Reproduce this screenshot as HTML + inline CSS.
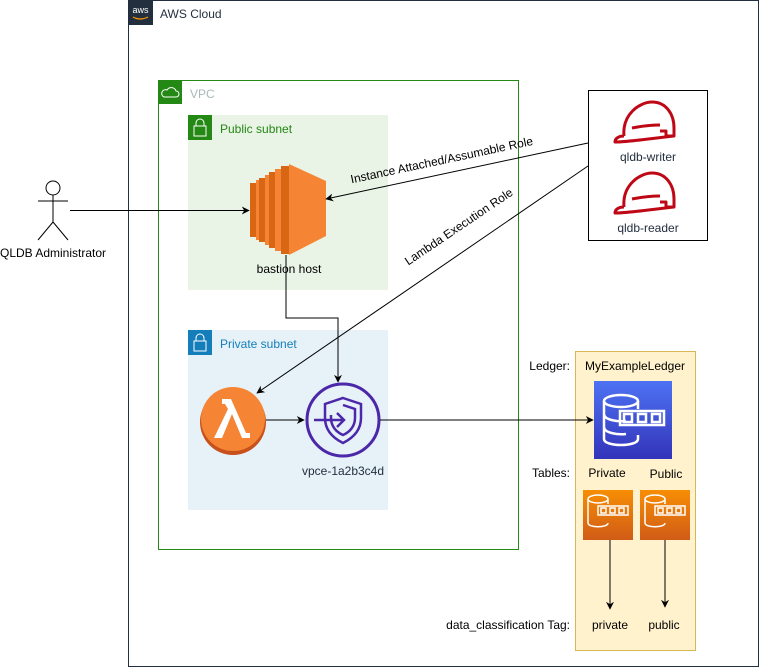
<!DOCTYPE html>
<html><head><meta charset="utf-8"><style>
html,body{margin:0;padding:0;background:#fff;}
svg{display:block;font-family:"Liberation Sans",Arial,sans-serif;}
</style></head><body>
<svg width="759" height="668" viewBox="0 0 759 668" xmlns="http://www.w3.org/2000/svg">
<defs>
<marker id="ar" viewBox="0 0 10 10" refX="9" refY="5" markerWidth="8" markerHeight="8" orient="auto" markerUnits="userSpaceOnUse"><path d="M0,0 L10,5 L0,10 L3,5 z" fill="#000"/></marker>
<linearGradient id="bl" x1="0" y1="0" x2="0" y2="1"><stop offset="0" stop-color="#4D72F3"/><stop offset="1" stop-color="#3334B9"/></linearGradient>
<linearGradient id="or" x1="0" y1="0" x2="0" y2="1"><stop offset="0" stop-color="#F78E04"/><stop offset="1" stop-color="#D05C17"/></linearGradient>
</defs>
<rect x="128.5" y="0.5" width="630" height="666" fill="#fff" stroke="#232F3E"/>
<rect x="128" y="0" width="25" height="25" fill="#232F3E"/>
<text x="140.5" y="13" font-size="9" fill="#fff" text-anchor="middle">aws</text>
<path d="M133,17 Q140,21 148,17" stroke="#F90" stroke-width="1.2" fill="none"/>
<text x="160" y="18" font-size="12" fill="#232F3E">AWS Cloud</text>
<rect x="158.5" y="80.5" width="360" height="469" fill="none" stroke="#248814"/>
<rect x="158" y="80" width="24" height="24" fill="#248814"/>
<path d="M164,97 h12 a3,3 0 0 0 0,-6 a5,5 0 0 0 -9,-1 a3,3 0 0 0 -3,7z" stroke="#fff" fill="none" stroke-width="1"/>
<text x="190" y="98" font-size="12" fill="#AAB7B8">VPC</text>
<rect x="188" y="115" width="200" height="175" fill="#E9F3E6"/>
<rect x="188" y="115" width="24" height="25" fill="#248814"/>
<rect x="194" y="126" width="12" height="10" fill="none" stroke="#fff"/>
<path d="M196,126 v-3 a4,4 0 0 1 8,0 v3" fill="none" stroke="#fff"/>
<text x="220" y="133" font-size="12" fill="#248814">Public subnet</text>
<rect x="188" y="330" width="200" height="180" fill="#E6F2F8"/>
<rect x="188" y="330" width="24" height="25" fill="#147EBA"/>
<rect x="194" y="341" width="12" height="10" fill="none" stroke="#fff"/>
<path d="M196,341 v-3 a4,4 0 0 1 8,0 v3" fill="none" stroke="#fff"/>
<text x="220" y="348" font-size="12" fill="#147EBA">Private subnet</text>
<rect x="250" y="183" width="10" height="54" fill="#D86613"/>
<rect x="256" y="180" width="10" height="60" fill="#F58534"/>
<rect x="259" y="178" width="10" height="64" fill="#D86613"/>
<rect x="265" y="175" width="10" height="70" fill="#F58534"/>
<rect x="269" y="172" width="10" height="76" fill="#D86613"/>
<rect x="275" y="169" width="10" height="82" fill="#F58534"/>
<rect x="281" y="166" width="8" height="88" fill="#D86613"/>
<polygon points="289,164 326,181 326,236 289,255" fill="#F58534"/>
<text x="289" y="273" font-size="12" fill="#000" text-anchor="middle">bastion host</text>
<circle cx="233" cy="422" r="33" fill="#C8511B"/>
<circle cx="233" cy="419" r="32" fill="#F58534"/>
<path d="M222,399 h9 l15,34 h4 v5 h-8 l-10,-24 l-10,24 h-8 l14,-29 l-3,-5 h-3z" fill="#fff"/>
<circle cx="343" cy="420" r="36" fill="none" stroke="#4D27AA" stroke-width="3"/>
<path d="M343,398 l18,6 v14 c0,12 -8,20 -18,25 c-10,-5 -18,-13 -18,-25 v-14z" fill="none" stroke="#4D27AA" stroke-width="2.5"/>
<path d="M343,405 l12,4 v9 c0,8 -5,14 -12,17 c-7,-3 -12,-9 -12,-17 v-3" fill="none" stroke="#4D27AA" stroke-width="2.5"/>
<path d="M314,420 h30 M337,413 l7,7 l-7,7" fill="none" stroke="#4D27AA" stroke-width="2.5"/>
<text x="343" y="475" font-size="12" fill="#232F3E" text-anchor="middle">vpce-1a2b3c4d</text>
<rect x="588.5" y="90.5" width="119" height="150" fill="#fff" stroke="#000"/>
<g fill="none" stroke="#BF0816" stroke-width="3" stroke-linejoin="round">
<path d="M624,136 C622,114 640,102 652,102 C666,102 674,114 674,128 v8 h-8 v-5 h-6"/>
<path d="M624,136 c-6,0 -9,3 -9,6 c14,0 40,-4 59,-6 M632,128 c10,-2 20,-3 28,-3"/>
<path d="M624,207 C622,185 640,173 652,173 C666,173 674,185 674,199 v8 h-8 v-5 h-6"/>
<path d="M624,207 c-6,0 -9,3 -9,6 c14,0 40,-4 59,-6 M632,199 c10,-2 20,-3 28,-3"/>
</g>
<text x="648" y="161" font-size="12" fill="#232F3E" text-anchor="middle">qldb-writer</text>
<text x="648" y="232" font-size="12" fill="#232F3E" text-anchor="middle">qldb-reader</text>
<rect x="575.5" y="351.5" width="120" height="299" fill="#FFF2CC" stroke="#D6B656"/>
<text x="635" y="370" font-size="12" fill="#000" text-anchor="middle">MyExampleLedger</text>
<text x="570" y="370" font-size="12" fill="#000" text-anchor="end">Ledger:</text>
<rect x="594" y="381" width="78" height="78" fill="url(#bl)"/>
<g fill="none" stroke="#fff" stroke-width="2.5">
<ellipse cx="621" cy="401" rx="17" ry="6"/>
<path d="M604,401 v38 c0,8 34,8 34,0 v-4 M604,414 c0,6 14,8 22,7 M604,427 c0,6 14,8 22,7 M638,401 v8"/>
<rect x="620" y="411" width="44" height="14"/>
<rect x="624" y="414" width="8" height="8"/><rect x="638" y="414" width="8" height="8"/><rect x="652" y="414" width="8" height="8"/>
</g>
<text x="570" y="477" font-size="12" fill="#000" text-anchor="end">Tables:</text>
<text x="607" y="477" font-size="12" fill="#000" text-anchor="middle">Private</text>
<text x="666" y="478" font-size="12" fill="#000" text-anchor="middle">Public</text>
<rect x="583" y="490" width="50" height="50" fill="url(#or)"/>
<rect x="640" y="490" width="50" height="50" fill="url(#or)"/>
<g fill="none" stroke="#fff" stroke-width="1.5">
<ellipse cx="598" cy="499" rx="10" ry="4"/><path d="M588,499 v24 c0,5 20,5 20,0 M608,499 v5"/>
<rect x="598" y="506" width="30" height="9"/>
<rect x="601" y="508" width="5" height="5"/><rect x="610" y="508" width="5" height="5"/><rect x="619" y="508" width="5" height="5"/>
<ellipse cx="655" cy="499" rx="10" ry="4"/><path d="M645,499 v24 c0,5 20,5 20,0 M665,499 v5"/>
<rect x="655" y="506" width="30" height="9"/>
<rect x="658" y="508" width="5" height="5"/><rect x="667" y="508" width="5" height="5"/><rect x="676" y="508" width="5" height="5"/>
</g>
<text x="570" y="629" font-size="12" fill="#000" text-anchor="end">data_classification Tag:</text>
<text x="610" y="629" font-size="12" fill="#000" text-anchor="middle">private</text>
<text x="664" y="629" font-size="12" fill="#000" text-anchor="middle">public</text>
<g stroke="#000" fill="none" stroke-width="1">
<circle cx="53" cy="188" r="7"/>
<path d="M53,195 v27 M38,201 h30 M53,222 l-15,18 M53,222 l15,18"/>
</g>
<text x="53" y="257" font-size="12" fill="#000" text-anchor="middle">QLDB Administrator</text>
<g stroke="#000" stroke-width="1" fill="none" marker-end="url(#ar)">
<path d="M70,210.5 H249"/>
<path d="M588,143 L326,199"/>
<path d="M588,166 L257,393"/>
<path d="M286,255 V318 H338 V382"/>
<path d="M266,420 H304"/>
<path d="M380,420 H593"/>
<path d="M610,540 V609"/>
<path d="M665,540 V607"/>
</g>
<text transform="translate(443,166) rotate(-12)" font-size="12" fill="#000" text-anchor="middle" dy="-2">Instance Attached/Assumable Role</text>
<text transform="translate(461,230) rotate(-34)" font-size="12" fill="#000" text-anchor="middle">Lambda Execution Role</text>
</svg>
</body></html>
